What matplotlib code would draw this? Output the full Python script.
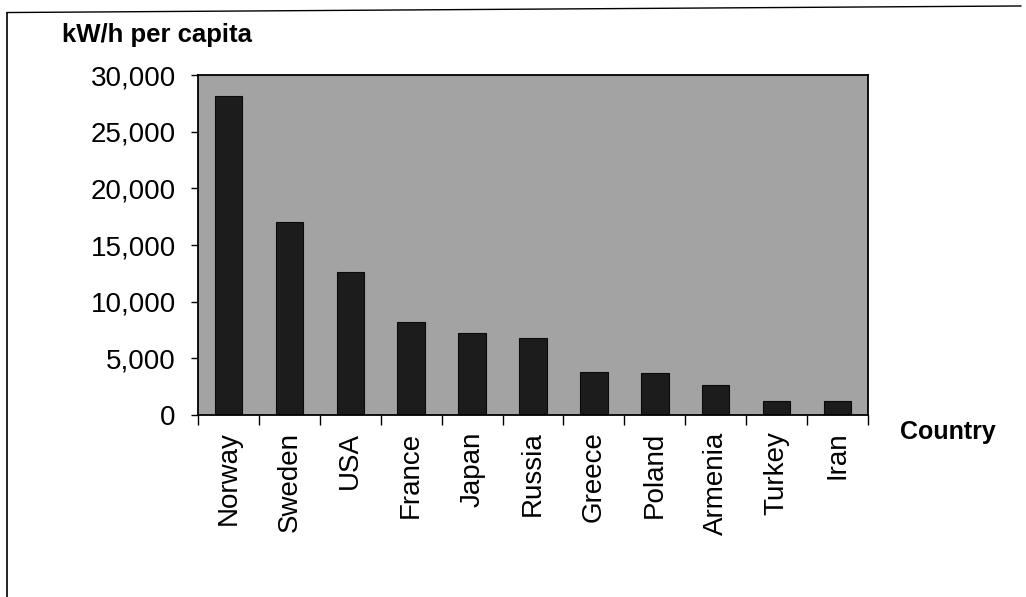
import numpy as np
import matplotlib.pyplot as plt
from matplotlib.lines import Line2D

countries = ["Norway", "Sweden", "USA", "France", "Japan", "Russia",
             "Greece", "Poland", "Armenia", "Turkey", "Iran"]
kwh_per_capita = [28200, 17000, 12600, 8200, 7200, 6800,
                  3800, 3700, 2650, 1250, 1250]
y_ticks = [0, 5000, 10000, 15000, 20000, 25000, 30000]

plt.rcParams["font.family"] = ["Liberation Sans", "DejaVu Sans"]

fig = plt.figure(figsize=(10.26, 5.97), dpi=100)
ax = fig.add_axes([0.193, 0.305, 0.653, 0.569])

x = np.arange(len(countries))
ax.set_facecolor("#a3a3a3")
ax.bar(x, kwh_per_capita, width=0.45, color="#1c1c1c", edgecolor="#0a0a0a", linewidth=0.8)

ax.set_xlim(-0.5, len(countries) - 0.5)
ax.set_ylim(0, 30000)

# y axis
ax.set_yticks(y_ticks)
ax.set_yticklabels([f"{v:,}" for v in y_ticks], fontsize=20)
ax.tick_params(axis="y", direction="out", length=5, width=1, pad=11)

# x axis: labels at centres, tick marks at category boundaries
ax.set_xticks(x)
ax.set_xticklabels(countries, rotation=90, fontsize=20, va="top", ha="center")
ax.tick_params(axis="x", which="major", length=0, pad=12)
ax.set_xticks(np.arange(-0.5, len(countries)), minor=True)
ax.tick_params(axis="x", which="minor", direction="out", length=7, width=1)

for s in ax.spines.values():
    s.set_color("black")
    s.set_linewidth(1.3)

fig.text(0.060, 0.941, "kW/h per capita", fontsize=18.5, fontweight="bold", va="center", ha="left")
fig.text(0.877, 0.276, "Country", fontsize=18, fontweight="bold", va="center", ha="left")

# page border lines
fig.add_artist(Line2D([0.007, 0.007], [0.0, 0.979], transform=fig.transFigure, color="black", lw=1.2))
fig.add_artist(Line2D([0.007, 0.995], [0.979, 0.99], transform=fig.transFigure, color="black", lw=1.0))

fig.savefig("out.png", dpi=100, facecolor="white")
